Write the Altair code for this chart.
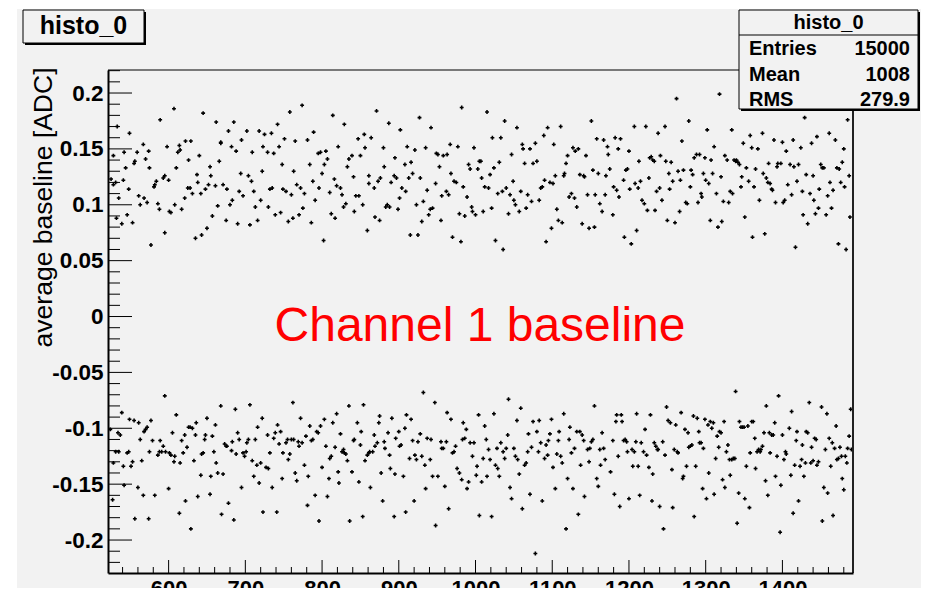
import altair as alt
import pandas as pd

# ---- data: (run number, average baseline in 1e-3 ADC) ----
upper_a = [(533,170),(528,144),(549,164),(567,154),(542,147),(556,139),(555,137),(559,147),(570,141),(574,148),(575,133),(525,123),(528,118),(531,120),(541,122),(544,133),(548,114),(535,106),(532,88),(539,83),(546,91),(553,84),(561,108),(563,100),(568,106),(572,102),(577,64),(581,116),(582,118),(584,121),(586,101),(588,96),(589,176),(593,124),(595,75),(595,126),(598,152),(600,122),(601,94),(603,93),(607,186),(608,100),(610,133),(612,147),(614,153),(615,149),(617,96),(621,106),(622,157),(626,140),(625,115),(628,115),(629,157),(631,110),(635,70),(637,127),(638,120),(640,144),(642,110),(643,73),(645,182),(648,114),(650,79),(652,118),(654,134),(655,126),(657,90),(661,117),(662,174),(664,99),(666,139),(668,155),(668,156),(671,118),(675,86),(676,114),(678,166),(680,100),(682,152),(683,104),(685,174),(688,148),(690,83),(692,112),(694,128),(695,158),(697,108),(702,166),(704,126),(706,82),(708,121),(709,147),(711,112),(713,98),(716,86),(718,166),(720,104),(722,130),(723,152),(725,163),(729,147),(730,98),(732,114),(734,164),(735,115),(737,146),(739,91),(742,172),(744,152),(746,93),(748,136),(749,114),(751,159),(753,112),(756,85),(758,183),(760,109),(762,88),(763,130),(765,157),(767,118),(770,91),(772,115),(774,189),(775,97),(777,110),(781,158),(784,136),(786,84),(788,121),(789,165),(791,104),(795,146),(796,115),(798,147),(800,128),(802,68),(803,136),(805,148),(807,141),(810,111),(812,92),(814,180),(816,123),(817,88),(819,117),(821,152),(824,115),(826,109),(828,98),(829,172),(831,101),(833,134),(835,141)]
upper_b = [(841,125),(839,144),(842,94),(844,108),(848,108),(847,159),(850,144),(853,100),(855,163),(856,151),(859,77),(861,119),(861,126),(864,160),(868,115),(869,89),(871,184),(873,121),(875,86),(876,124),(880,151),(881,134),(883,98),(885,100),(887,173),(888,98),(890,120),(894,126),(895,142),(897,124),(899,96),(901,106),(902,167),(904,115),(908,136),(909,112),(911,152),(913,124),(915,73),(916,138),(918,128),(921,149),(923,100),(925,73),(927,178),(928,124),(930,85),(932,103),(935,151),(937,113),(939,91),(941,96),(942,169),(944,97),(948,119),(949,146),(951,145),(953,134),(955,86),(956,108),(958,144),(962,112),(963,145),(965,109),(967,154),(968,128),(970,71),(972,121),(975,120),(977,152),(979,92),(981,67),(982,187),(984,116),(986,90),(989,107),(991,136),(993,132),(995,98),(996,94),(998,151),(1000,91),(1003,132),(1005,139),(1007,139),(1008,124),(1010,94),(1012,116),(1015,183),(1017,115),(1019,127),(1021,97),(1022,160),(1024,133),(1026,68),(1029,110),(1031,138),(1033,160),(1035,112),(1036,60),(1038,175),(1040,115),(1043,92),(1045,109),(1047,145),(1049,121),(1050,104),(1052,100),(1054,169),(1057,94),(1059,112),(1061,154),(1062,150),(1064,137),(1066,97),(1068,109),(1071,150),(1073,103),(1075,137),(1078,155),(1080,139),(1083,104),(1085,115),(1087,116),(1089,162),(1090,122),(1092,67),(1094,169),(1097,120),(1099,79),(1101,119),(1102,154),(1104,126),(1106,96),(1108,86),(1111,170),(1113,84),(1115,126),(1116,128),(1118,137),(1120,144),(1122,107),(1125,110),(1127,151),(1129,106),(1130,148),(1132,98),(1134,150),(1136,127),(1139,83),(1141,126),(1142,125),(1144,144),(1146,109),(1148,79),(1151,175),(1153,131),(1155,80),(1156,109),(1158,159),(1160,128),(1162,101),(1165,94),(1167,158),(1169,109)]
upper_c = [(1170,126),(1172,152),(1173,145),(1175,132),(1179,91),(1180,116),(1182,160),(1184,113),(1186,150),(1187,107),(1189,159),(1193,122),(1194,71),(1196,131),(1198,132),(1200,148),(1201,114),(1203,65),(1207,170),(1208,119),(1210,77),(1212,115),(1213,139),(1215,121),(1217,104),(1220,101),(1222,170),(1224,95),(1226,124),(1227,142),(1229,143),(1231,140),(1233,139),(1234,95),(1236,112),(1238,164),(1240,115),(1241,144),(1243,104),(1247,170),(1248,139),(1250,86),(1252,128),(1253,114),(1255,138),(1257,121),(1260,84),(1262,195),(1264,130),(1266,94),(1267,122),(1269,157),(1271,131),(1274,102),(1276,101),(1278,175),(1280,116),(1281,131),(1283,127),(1285,142),(1288,145),(1290,102),(1292,145),(1294,110),(1295,107),(1297,128),(1299,142),(1300,122),(1302,167),(1304,119),(1306,86),(1307,140),(1309,128),(1311,152),(1314,110),(1316,80),(1318,199),(1320,125),(1321,85),(1323,103),(1325,144),(1328,140),(1330,102),(1332,112),(1334,167),(1335,110),(1337,140),(1339,139),(1340,140),(1342,138),(1344,136),(1346,116),(1347,125),(1349,155),(1351,89),(1353,133),(1356,121),(1358,162),(1360,151),(1361,71),(1363,116),(1365,132),(1368,150),(1370,104),(1374,164),(1375,128),(1377,74),(1379,124),(1381,120),(1382,137),(1384,119),(1386,114),(1387,113),(1389,158),(1391,102),(1393,134),(1394,137),(1398,137),(1400,156),(1401,102),(1403,104),(1405,148),(1407,118),(1410,136),(1412,109),(1414,158),(1415,134),(1417,62),(1419,121),(1421,136),(1424,151),(1426,112),(1427,91),(1429,178),(1431,127),(1433,83),(1436,110),(1438,155),(1440,126),(1441,104),(1443,92),(1445,161),(1447,97),(1448,114),(1450,136),(1452,133),(1454,133),(1457,91),(1459,108),(1461,164),(1462,120),(1464,97),(1466,113),(1469,158),(1471,133),(1473,65),(1474,132),(1476,120),(1478,138),(1480,150),(1481,116),(1483,60),(1485,176),(1487,126),(1488,89)]

lower_a = [(524,-101),(527,-164),(528,-131),(531,-121),(534,-104),(535,-121),(537,-106),(539,-86),(541,-134),(542,-151),(546,-122),(548,-121),(549,-92),(551,-134),(553,-130),(555,-93),(556,-181),(560,-153),(561,-95),(563,-110),(565,-129),(567,-160),(568,-103),(570,-101),(572,-99),(574,-181),(575,-121),(577,-93),(579,-111),(582,-160),(586,-124),(588,-121),(589,-111),(591,-121),(593,-116),(595,-71),(596,-121),(600,-154),(601,-122),(603,-124),(605,-104),(607,-130),(608,-125),(610,-88),(614,-176),(615,-131),(617,-111),(619,-122),(621,-106),(622,-165),(624,-117),(626,-99),(628,-99),(629,-190),(631,-100),(633,-129),(635,-106),(636,-95),(638,-161),(642,-142),(643,-123),(645,-122),(647,-110),(648,-106),(650,-91),(654,-159),(655,-143),(657,-107),(659,-121),(661,-97),(662,-131),(664,-140),(668,-80),(669,-177),(671,-141),(673,-114),(675,-116),(676,-116),(678,-167),(682,-120),(683,-112),(685,-182),(687,-83),(688,-123),(690,-104),(692,-110),(695,-153),(697,-122),(699,-125),(701,-121),(702,-113),(704,-110),(706,-79),(709,-129),(711,-143),(713,-110),(715,-133),(716,-99),(718,-149),(720,-131),(722,-91),(723,-175),(727,-135),(729,-106),(730,-136),(732,-122),(735,-153),(737,-109),(739,-104),(741,-175),(742,-97),(744,-114),(746,-103),(748,-145),(749,-122),(753,-113),(755,-110),(756,-128),(758,-123),(760,-110),(762,-77),(763,-110),(765,-140),(767,-147),(769,-112),(770,-116),(772,-91),(774,-113),(777,-133),(779,-107),(781,-169),(782,-143),(784,-98),(786,-111),(788,-110),(791,-160),(793,-103),(795,-104),(796,-183),(798,-98),(800,-135),(803,-92),(805,-116),(807,-161),(809,-145),(810,-127),(812,-125),(814,-95),(817,-117),(819,-87),(821,-139),(822,-149),(824,-105),(826,-121),(828,-119),(829,-122),(831,-123),(833,-129),(835,-80),(836,-183)]
lower_b = [(839,-139),(841,-111),(842,-110),(846,-95),(848,-148),(850,-115),(851,-103),(853,-179),(854,-79),(856,-129),(859,-124),(861,-122),(862,-121),(863,-153),(866,-121),(868,-106),(869,-116),(872,-113),(874,-95),(875,-89),(877,-140),(879,-165),(881,-112),(882,-118),(886,-104),(888,-124),(889,-136),(891,-91),(894,-179),(895,-141),(896,-109),(900,-103),(901,-116),(903,-115),(906,-143),(908,-100),(909,-175),(910,-88),(914,-127),(916,-92),(918,-111),(920,-165),(921,-124),(923,-128),(925,-112),(928,-105),(930,-125),(932,-68),(934,-133),(935,-154),(937,-109),(941,-128),(942,-110),(944,-143),(947,-77),(948,-187),(951,-143),(955,-112),(956,-118),(958,-118),(960,-152),(962,-112),(963,-86),(965,-172),(968,-92),(970,-122),(972,-121),(974,-116),(976,-136),(979,-140),(982,-146),(983,-110),(984,-95),(986,-109),(988,-101),(989,-154),(991,-148),(993,-113),(996,-125),(998,-113),(1001,-142),(1002,-134),(1004,-88),(1005,-178),(1008,-148),(1010,-127),(1012,-98),(1014,-110),(1015,-143),(1017,-119),(1019,-128),(1021,-179),(1024,-87),(1026,-133),(1028,-118),(1029,-136),(1031,-143),(1033,-113),(1036,-121),(1038,-127),(1040,-118),(1042,-106),(1043,-74),(1045,-153),(1047,-163),(1050,-118),(1052,-125),(1054,-93),(1055,-128),(1057,-141),(1059,-82),(1061,-172),(1064,-133),(1066,-131),(1068,-121),(1069,-105),(1071,-159),(1073,-117),(1075,-94),(1078,-212),(1080,-103),(1082,-121),(1083,-93),(1085,-113),(1087,-165),(1090,-127),(1092,-115),(1094,-124),(1095,-111),(1097,-105),(1099,-92),(1101,-135),(1104,-154),(1106,-123),(1108,-111),(1109,-103),(1111,-125),(1113,-131),(1115,-87),(1118,-190),(1120,-145),(1122,-110),(1123,-99),(1125,-122),(1127,-154),(1129,-118),(1132,-103),(1134,-177),(1136,-103),(1137,-133),(1139,-106),(1141,-111),(1142,-161),(1146,-119),(1148,-130),(1149,-118),(1151,-112),(1153,-110),(1155,-80),(1158,-145),(1160,-152),(1162,-119),(1163,-133),(1165,-104),(1167,-118),(1169,-128)]
lower_c = [(1176,-139),(1179,-111),(1181,-159),(1183,-94),(1184,-88),(1186,-125),(1188,-170),(1190,-88),(1191,-94),(1193,-111),(1195,-110),(1197,-112),(1198,-121),(1200,-163),(1204,-119),(1205,-134),(1207,-121),(1209,-112),(1210,-87),(1212,-134),(1214,-160),(1216,-113),(1219,-121),(1221,-101),(1223,-124),(1226,-135),(1228,-88),(1230,-165),(1231,-141),(1233,-113),(1235,-116),(1237,-119),(1238,-119),(1240,-170),(1244,-112),(1245,-190),(1247,-124),(1249,-81),(1251,-93),(1254,-95),(1256,-137),(1257,-171),(1259,-119),(1261,-97),(1263,-121),(1264,-122),(1268,-86),(1270,-145),(1271,-143),(1273,-101),(1275,-134),(1277,-104),(1278,-117),(1280,-116),(1282,-115),(1284,-89),(1285,-179),(1287,-134),(1289,-91),(1291,-103),(1292,-113),(1294,-113),(1296,-154),(1297,-118),(1299,-92),(1301,-163),(1303,-97),(1304,-140),(1306,-94),(1308,-100),(1310,-95),(1311,-159),(1313,-127),(1315,-107),(1317,-117),(1318,-103),(1320,-104),(1322,-146),(1324,-94),(1325,-153),(1327,-121),(1329,-115),(1331,-128),(1332,-142),(1334,-128),(1336,-127),(1338,-127),(1339,-67),(1341,-185),(1343,-158),(1344,-94),(1346,-99),(1348,-99),(1350,-99),(1351,-163),(1353,-134),(1355,-98),(1357,-171),(1358,-122),(1360,-94),(1362,-94),(1364,-109),(1365,-136),(1367,-121),(1369,-119),(1371,-121),(1372,-119),(1374,-116),(1376,-104),(1378,-147),(1379,-80),(1381,-160),(1383,-104),(1384,-122),(1386,-106),(1388,-106),(1390,-95),(1391,-143),(1393,-125),(1395,-71),(1397,-193),(1398,-151),(1400,-106),(1402,-128),(1404,-121),(1405,-123),(1409,-100),(1411,-142),(1412,-85),(1414,-176),(1416,-133),(1418,-111),(1419,-103),(1421,-165),(1423,-134),(1425,-128),(1426,-115),(1428,-143),(1430,-131),(1431,-103),(1433,-104),(1435,-77),(1437,-131),(1438,-117),(1440,-129),(1442,-109),(1444,-110),(1445,-133),(1447,-130),(1451,-81),(1452,-183),(1454,-153),(1456,-119),(1458,-87),(1459,-158),(1461,-109),(1463,-134),(1465,-113),(1466,-178),(1468,-118),(1470,-98),(1471,-128),(1473,-127),(1475,-117),(1477,-125),(1478,-145),(1480,-155),(1482,-125),(1484,-131),(1485,-118),(1487,-107),(1489,-83),(1490,-119)]

x_major = [600, 700, 800, 900, 1000, 1100, 1200, 1300, 1400]
x_minor = [v for v in range(540, 1481, 20) if v % 100 != 0]
y_major = [-0.2, -0.15, -0.1, -0.05, 0.0, 0.05, 0.1, 0.15, 0.2]
y_minor = [v / 100 for v in range(-22, 23) if v % 5 != 0]

title_text = "histo_0"
stats_labels = ["Entries", "Mean", "RMS"]
stats_values = ["15000", "1008", "279.9"]
annotation = "Channel 1 baseline"

# ---- build ----
rows = []
for seg in (upper_a, upper_b, upper_c, lower_a, lower_b, lower_c):
    for xv, ym in seg:
        rows.append({"x": xv, "y": ym / 1000.0})
pts = pd.DataFrame(rows)

W, H = 745, 503
FONT = "Liberation Sans"
BG = "#f2f2f2"
xs = alt.Scale(domain=[521, 1492], nice=False, zero=False)
ys = alt.Scale(domain=[-0.2295, 0.2206], nice=False, zero=False)
one = pd.DataFrame({"k": [0]})

canvas = alt.Chart(one).mark_rect(color=BG).encode(
    x=alt.value(-91), x2=alt.value(830), y=alt.value(-61), y2=alt.value(530))

x_axis = alt.Axis(values=x_major, format="d", labelFont=FONT, labelFontWeight="bold",
                  labelFontSize=22, labelColor="black", ticks=False, tickSize=0,
                  labelPadding=5, labelBaseline="top", domainColor="black",
                  domainWidth=2, grid=False, title=None, zindex=1,
                  labelFlush=False, labelOverlap=False)
y_axis = alt.Axis(values=y_major,
                  labelExpr="replace(format(datum.value, '.2~f'), '\u2212', '-')",
                  labelFont=FONT, labelFontWeight="bold", labelFontSize=22.5,
                  labelColor="black", ticks=False, tickSize=0, labelPadding=5,
                  domainColor="black", domainWidth=2, grid=False, zindex=1,
                  labelFlush=False, labelOverlap=False,
                  title="average baseline [ADC]", titleFont=FONT, titleFontSize=26.5,
                  titleFontWeight="normal", titleColor="black", titleAngle=270,
                  titleAlign="right", titleBaseline="alphabetic",
                  titleX=-57, titleY=-3)

points = alt.Chart(pts).mark_point(shape="cross", filled=True, size=15,
                                   color="black", opacity=1).encode(
    x=alt.X("x:Q", scale=xs, axis=x_axis),
    y=alt.Y("y:Q", scale=ys, axis=y_axis))

def rule_y(vals, length):
    return alt.Chart(pd.DataFrame({"y": vals})).mark_rule(color="black", strokeWidth=1).encode(
        y=alt.Y("y:Q", scale=ys), x=alt.value(0), x2=alt.value(length))

def rule_x(vals, length):
    return alt.Chart(pd.DataFrame({"x": vals})).mark_rule(color="black", strokeWidth=1).encode(
        x=alt.X("x:Q", scale=xs), y=alt.value(H), y2=alt.value(H - length))

ticks = [rule_y(y_major, 24), rule_y(y_minor, 12), rule_x(x_major, 13), rule_x(x_minor, 6)]

frame_top = alt.Chart(one).mark_rule(color="black", strokeWidth=1).encode(
    x=alt.value(0), x2=alt.value(632), y=alt.value(0))
frame_right = alt.Chart(one).mark_rule(color="#222222", strokeWidth=2).encode(
    x=alt.value(W), y=alt.value(40), y2=alt.value(H))

def box(x0, y0, x1, y1):
    shadow = alt.Chart(one).mark_rect(color="black").encode(
        x=alt.value(x0 + 2), x2=alt.value(x1 + 2), y=alt.value(y0 + 2), y2=alt.value(y1 + 2))
    body = alt.Chart(one).mark_rect(fill=BG, stroke="black", strokeWidth=1).encode(
        x=alt.value(x0), x2=alt.value(x1), y=alt.value(y0), y2=alt.value(y1))
    return [shadow, body]

def label(text, x, y, size, align="left", weight="bold", color="black"):
    return alt.Chart(one).mark_text(text=text, font=FONT, fontSize=size, fontWeight=weight,
                                    align=align, baseline="alphabetic", color=color).encode(
        x=alt.value(x), y=alt.value(y))

title_layers = box(-85, -60, 36, -27) + [label(title_text, -24.5, -36.5, 25, align="center")]

SX0, SX1 = 631, 810
stats_layers = box(SX0, -60, SX1, 39)
stats_layers.append(alt.Chart(one).mark_rule(color="black", strokeWidth=1).encode(
    x=alt.value(SX0), x2=alt.value(SX1), y=alt.value(-35)))
stats_layers.append(label(title_text, (SX0 + SX1) / 2, -41, 20, align="center"))
for i, (lab, val) in enumerate(zip(stats_labels, stats_values)):
    yb = -15 + 25.5 * i
    stats_layers.append(label(lab, SX0 + 10, yb, 20, align="left"))
    stats_layers.append(label(val, SX1 - 8, yb, 20, align="right"))

red = label(annotation, 372, 271, 48, align="center", weight="normal", color="#ff0000")

chart = alt.layer(canvas, points, *ticks, frame_top, frame_right,
                  *title_layers, *stats_layers, red).properties(
    width=W, height=H,
    padding={"left": 100, "top": 62, "right": 68, "bottom": 15},
    autosize=alt.AutoSizeParams(type="none"),
    background="white",
).configure_view(strokeWidth=0)

chart.save("out.html", embed_options={"renderer": "svg", "actions": False})
